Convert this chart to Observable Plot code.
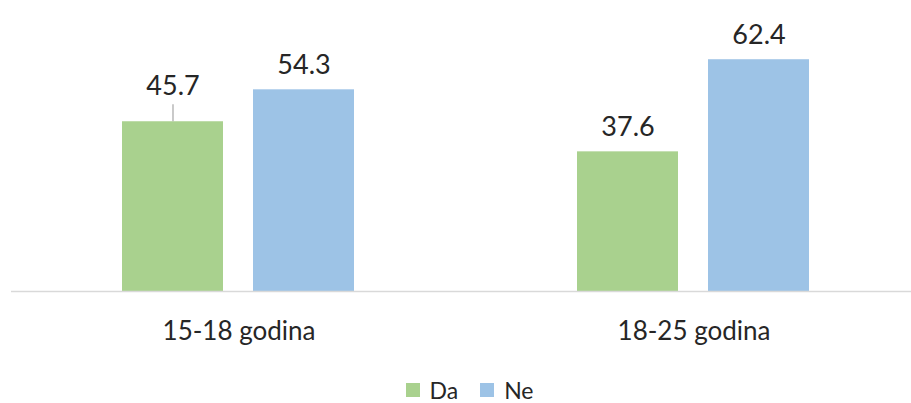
<!DOCTYPE html>
<html>
<head>
<meta charset="utf-8">
<script src="https://cdn.jsdelivr.net/npm/d3@7"></script>
<script src="https://cdn.jsdelivr.net/npm/@observablehq/plot@0.6"></script>
<style>
  html, body { margin: 0; padding: 0; background: #fff; }
  body { width: 911px; height: 403px; overflow: hidden; font-family: Lato, "Open Sans", sans-serif; }
  #legend { height: 40px; display: flex; justify-content: center; align-items: center; gap: 22px; padding-left: 28px; box-sizing: border-box; font-size: 23px; color: #262626; }
  #legend .item { display: flex; align-items: center; gap: 10px; }
  #legend .sw { width: 14px; height: 14px; display: inline-block; }
</style>
</head>
<body>
<div id="chart"></div>
<div id="legend"></div>
<script>
const groups = ["15-18 godina", "18-25 godina"];
const series = ["Da", "Ne"];
const daValues = [45.7, 37.6];
const neValues = [54.3, 62.4];
const colors = ["#a9d18e", "#9dc3e6"];

const data = [];
groups.forEach((g, i) => {
  data.push({group: g, series: "Da", value: daValues[i]});
  data.push({group: g, series: "Ne", value: neValues[i]});
});
const lifted = d => d.group === groups[0] && d.series === "Da";

const plot = Plot.plot({
  width: 911,
  height: 370,
  marginTop: 31,
  marginBottom: 79,
  marginLeft: 11,
  marginRight: 0,
  style: {fontFamily: "Lato, 'Open Sans', sans-serif", background: "#fff"},
  fx: {domain: groups, range: [10.75, 921.75], padding: 0, label: null},
  x: {domain: series, paddingInner: 0.229, paddingOuter: 0.849, axis: null},
  y: {domain: [0, 70], axis: null},
  color: {domain: series, range: colors},
  marks: [
    Plot.barY(data, {fx: "group", x: "series", y: "value", fill: "series"}),
    Plot.ruleY([0], {stroke: "#d9d9d9", strokeWidth: 1.5}),
    Plot.ruleX(data.filter(lifted), {fx: "group", x: "series", y1: "value", y2: "value", insetTop: -17, stroke: "#a6a6a6", strokeWidth: 1.2}),
    Plot.text(data.filter(d => !lifted(d)), {fx: "group", x: "series", y: "value", text: d => d.value.toFixed(1), lineAnchor: "bottom", dy: -16, fontSize: 27, fill: "#262626"}),
    Plot.text(data.filter(lifted), {fx: "group", x: "series", y: "value", text: d => d.value.toFixed(1), lineAnchor: "bottom", dy: -27, fontSize: 27, fill: "#262626"}),
    Plot.axisFx({anchor: "bottom", tickSize: 0, tickPadding: 30, fontSize: 26, label: null, color: "#262626"})
  ]
});
document.getElementById("chart").appendChild(plot);

const legend = document.getElementById("legend");
series.forEach((s, i) => {
  const item = document.createElement("div");
  item.className = "item";
  const sw = document.createElement("span");
  sw.className = "sw";
  sw.style.background = colors[i];
  const t = document.createElement("span");
  t.textContent = s;
  item.appendChild(sw);
  item.appendChild(t);
  legend.appendChild(item);
});
</script>
</body>
</html>
